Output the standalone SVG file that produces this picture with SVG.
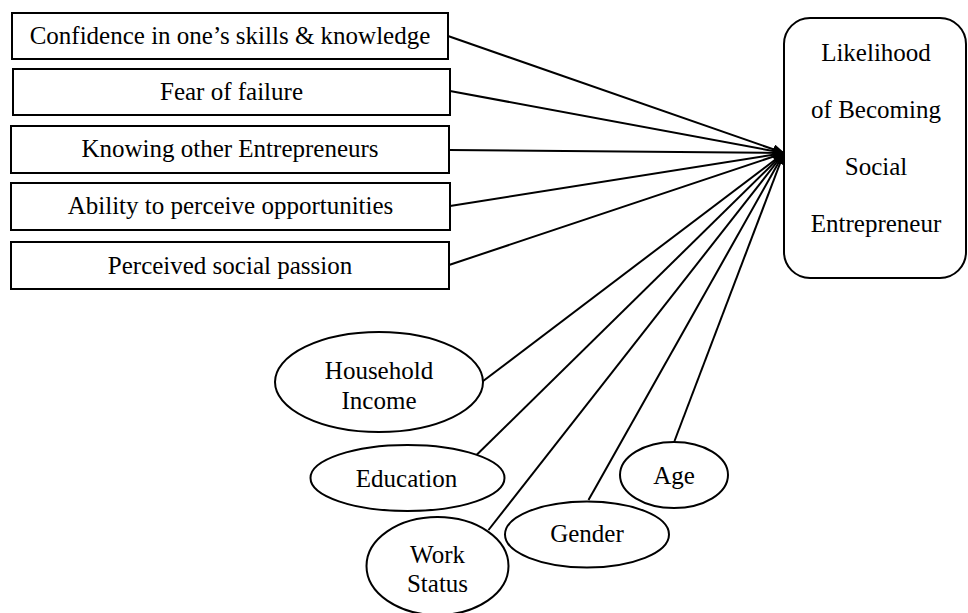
<svg xmlns="http://www.w3.org/2000/svg" width="968" height="613" viewBox="0 0 968 613" font-family="Liberation Serif, Times New Roman, serif">
<style>
.box{fill:#fff;stroke:#000;stroke-width:2}
.t{font-family:'Liberation Serif','Times New Roman',serif;font-size:25px;fill:#000;text-anchor:middle}
.c{stroke:#000;stroke-width:2;fill:none;marker-end:url(#ah)}
</style>
<defs>
<marker id="ah" markerUnits="userSpaceOnUse" markerWidth="12" markerHeight="10" refX="11" refY="5" orient="auto">
<path d="M0,0 L12,5 L0,10 Z" fill="#000"/>
</marker>
</defs>
<rect width="968" height="613" fill="#fff"/>
<g id="connectors">
<line class="c" x1="448" y1="36" x2="784" y2="153"/>
<line class="c" x1="450" y1="91" x2="784" y2="153"/>
<line class="c" x1="449" y1="150" x2="784" y2="153"/>
<line class="c" x1="450" y1="206" x2="784" y2="153"/>
<line class="c" x1="449" y1="265" x2="784" y2="153"/>
<line class="c" x1="482.5" y1="381.5" x2="784" y2="153"/>
<line class="c" x1="476.5" y1="455" x2="784" y2="153"/>
<line class="c" x1="488.5" y1="530" x2="784" y2="153"/>
<line class="c" x1="588.5" y1="500" x2="784" y2="153"/>
<line class="c" x1="674.5" y1="441" x2="784" y2="153"/>
</g>
<g id="confidence"><rect class="box" x="12" y="13" width="436" height="46"/><text class="t" x="230" y="44">Confidence in one’s skills &amp; knowledge</text></g>
<g id="fear"><rect class="box" x="13" y="69" width="437" height="46"/><text class="t" x="231.5" y="100">Fear of failure</text></g>
<g id="knowing"><rect class="box" x="11" y="126" width="438" height="47"/><text class="t" x="230" y="157">Knowing other Entrepreneurs</text></g>
<g id="ability"><rect class="box" x="11" y="183" width="439" height="47"/><text class="t" x="230.5" y="214">Ability to perceive opportunities</text></g>
<g id="passion"><rect class="box" x="11" y="242" width="438" height="47"/><text class="t" x="230" y="273.5">Perceived social passion</text></g>
<g id="likelihood"><rect class="box" x="784" y="18" width="182" height="260" rx="26" ry="26"/>
<text class="t" x="876" y="61">Likelihood</text>
<text class="t" x="876" y="117.5">of Becoming</text>
<text class="t" x="876" y="175">Social</text>
<text class="t" x="876" y="232">Entrepreneur</text></g>
<g id="household"><ellipse class="box" cx="379" cy="382" rx="104" ry="50"/><text class="t" x="379" y="378.5">Household</text><text class="t" x="379" y="408.5">Income</text></g>
<g id="education"><ellipse class="box" cx="407.5" cy="478" rx="97" ry="33"/><text class="t" x="406.5" y="486.5">Education</text></g>
<g id="workstatus"><ellipse class="box" cx="437.5" cy="566" rx="71" ry="49"/><text class="t" x="437.5" y="562.5">Work</text><text class="t" x="437.5" y="591.5">Status</text></g>
<g id="gender"><ellipse class="box" cx="587" cy="534.5" rx="82" ry="33"/><text class="t" x="587" y="541.5">Gender</text></g>
<g id="age"><ellipse class="box" cx="674" cy="475" rx="54" ry="33"/><text class="t" x="674" y="484">Age</text></g>
</svg>
